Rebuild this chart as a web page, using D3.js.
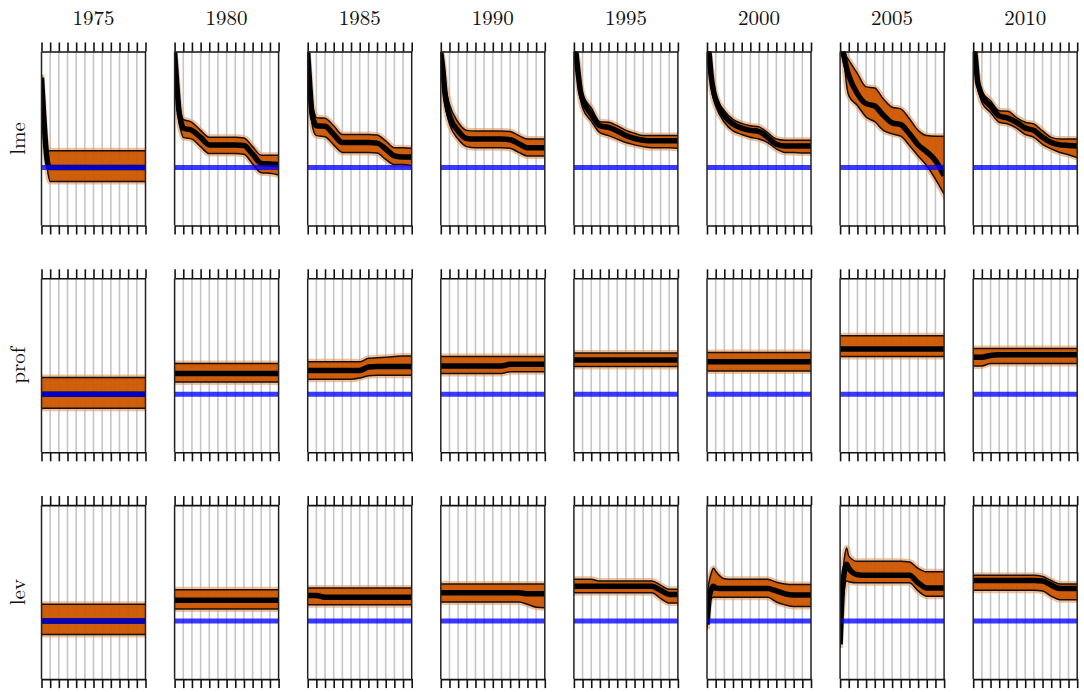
<!DOCTYPE html>
<html>
<head>
<meta charset="utf-8">
<script src="https://cdn.jsdelivr.net/npm/d3@7"></script>
<style>
  body { margin: 0; background: #fff; }
  text { font-family: "CMU Serif", "Latin Modern Roman", "Liberation Serif", serif; fill: #111; }
</style>
</head>
<body>
<svg id="grid" width="1084" height="692"></svg>
<script>
var years = ["1975", "1980", "1985", "1990", "1995", "2000", "2005", "2010"];
var variables = ["lme", "prof", "lev"];
var steps = [0, 0.25, 0.5, 0.75, 1, 2, 3, 4, 5, 6, 7, 8, 9, 10, 11, 12];
var periods = [0, 1, 2, 3, 4, 5, 6, 7, 8, 9, 10, 11, 12];
var baseline = 0;

// lme: median and band per year
var lmeMedian = [
  [1.55, 0.90, 0.35, 0.05, 0, 0, 0, 0, 0, 0, 0, 0, 0, 0, 0, 0],
  [1.98, 1.44, 0.98, 0.78, 0.68, 0.64, 0.52, 0.39, 0.39, 0.39, 0.39, 0.38, 0.23, 0.07, 0.06, 0.05],
  [1.98, 1.38, 0.92, 0.78, 0.72, 0.71, 0.57, 0.43, 0.43, 0.43, 0.43, 0.42, 0.32, 0.20, 0.18, 0.18],
  [1.98, 1.67, 1.26, 1.03, 0.89, 0.63, 0.50, 0.49, 0.49, 0.49, 0.49, 0.48, 0.41, 0.34, 0.34, 0.34],
  [2.18, 1.95, 1.61, 1.32, 1.18, 0.92, 0.72, 0.69, 0.63, 0.55, 0.50, 0.47, 0.46, 0.46, 0.46, 0.46],
  [2.18, 1.95, 1.55, 1.32, 1.18, 0.89, 0.75, 0.68, 0.64, 0.62, 0.52, 0.40, 0.37, 0.37, 0.37, 0.37],
  [2.17, 2.05, 1.88, 1.71, 1.59, 1.27, 1.10, 1.06, 0.90, 0.77, 0.74, 0.58, 0.39, 0.27, 0.12, -0.14],
  [2.18, 1.90, 1.49, 1.35, 1.24, 1.06, 0.89, 0.85, 0.78, 0.68, 0.64, 0.52, 0.43, 0.39, 0.38, 0.37]
];
var lmeUpper = [
  [1.60, 1.00, 0.45, 0.29, 0.29, 0.29, 0.29, 0.29, 0.29, 0.29, 0.29, 0.29, 0.29, 0.29, 0.29, 0.29],
  [2.01, 1.61, 1.12, 0.92, 0.83, 0.78, 0.64, 0.52, 0.52, 0.52, 0.52, 0.51, 0.36, 0.21, 0.21, 0.21],
  [2.01, 1.55, 1.09, 0.95, 0.86, 0.85, 0.72, 0.57, 0.57, 0.57, 0.57, 0.56, 0.46, 0.34, 0.34, 0.33],
  [2.01, 1.84, 1.44, 1.24, 1.09, 0.78, 0.64, 0.63, 0.63, 0.63, 0.63, 0.62, 0.55, 0.49, 0.49, 0.49],
  [2.24, 2.01, 1.78, 1.44, 1.26, 1.03, 0.79, 0.78, 0.72, 0.64, 0.59, 0.55, 0.55, 0.55, 0.55, 0.55],
  [2.24, 2.01, 1.67, 1.44, 1.26, 0.98, 0.83, 0.76, 0.72, 0.70, 0.60, 0.49, 0.47, 0.47, 0.47, 0.47],
  [2.23, 2.11, 2.02, 1.91, 1.85, 1.62, 1.39, 1.37, 1.18, 1.04, 1.01, 0.84, 0.64, 0.55, 0.54, 0.54],
  [2.24, 2.01, 1.61, 1.44, 1.32, 1.15, 0.98, 0.97, 0.86, 0.78, 0.75, 0.63, 0.52, 0.49, 0.49, 0.49]
];
var lmeLower = [
  [1.50, 0.75, 0.20, -0.10, -0.24, -0.24, -0.24, -0.24, -0.24, -0.24, -0.24, -0.24, -0.24, -0.24, -0.24, -0.24],
  [1.95, 1.26, 0.80, 0.62, 0.52, 0.49, 0.36, 0.24, 0.24, 0.24, 0.24, 0.23, 0.06, -0.09, -0.10, -0.13],
  [1.95, 1.21, 0.75, 0.60, 0.55, 0.53, 0.39, 0.26, 0.26, 0.26, 0.26, 0.25, 0.14, 0.05, 0.05, 0.03],
  [1.95, 1.49, 1.09, 0.89, 0.75, 0.49, 0.36, 0.34, 0.34, 0.34, 0.34, 0.33, 0.26, 0.20, 0.20, 0.20],
  [2.13, 1.87, 1.44, 1.18, 1.03, 0.80, 0.60, 0.55, 0.49, 0.43, 0.39, 0.36, 0.34, 0.34, 0.34, 0.33],
  [2.13, 1.87, 1.38, 1.18, 1.06, 0.78, 0.63, 0.57, 0.52, 0.49, 0.43, 0.32, 0.26, 0.26, 0.25, 0.25],
  [2.05, 1.94, 1.76, 1.42, 1.24, 1.07, 0.87, 0.79, 0.64, 0.58, 0.54, 0.38, 0.20, 0.03, -0.20, -0.46],
  [2.13, 1.78, 1.38, 1.24, 1.12, 0.95, 0.78, 0.75, 0.68, 0.57, 0.52, 0.40, 0.32, 0.26, 0.22, 0.17]
];

// prof
var profMedian = [
  [0, 0, 0, 0, 0, 0, 0, 0, 0, 0, 0, 0, 0, 0, 0, 0],
  [0.36, 0.36, 0.36, 0.36, 0.36, 0.36, 0.36, 0.36, 0.36, 0.36, 0.36, 0.36, 0.36, 0.36, 0.36, 0.36],
  [0.41, 0.41, 0.41, 0.41, 0.41, 0.41, 0.41, 0.41, 0.41, 0.41, 0.47, 0.48, 0.48, 0.48, 0.48, 0.48],
  [0.49, 0.49, 0.49, 0.49, 0.49, 0.49, 0.49, 0.49, 0.49, 0.49, 0.49, 0.52, 0.52, 0.52, 0.52, 0.52],
  [0.59, 0.59, 0.59, 0.59, 0.59, 0.59, 0.59, 0.59, 0.59, 0.59, 0.59, 0.59, 0.59, 0.59, 0.59, 0.59],
  [0.56, 0.56, 0.56, 0.56, 0.56, 0.56, 0.56, 0.56, 0.56, 0.56, 0.56, 0.56, 0.56, 0.56, 0.56, 0.56],
  [0.78, 0.78, 0.78, 0.78, 0.78, 0.78, 0.78, 0.78, 0.78, 0.78, 0.78, 0.78, 0.78, 0.78, 0.78, 0.78],
  [0.64, 0.64, 0.64, 0.64, 0.64, 0.67, 0.68, 0.68, 0.68, 0.68, 0.68, 0.68, 0.68, 0.68, 0.68, 0.68]
];
var profUpper = [
  [0.29, 0.29, 0.29, 0.29, 0.29, 0.29, 0.29, 0.29, 0.29, 0.29, 0.29, 0.29, 0.29, 0.29, 0.29, 0.29],
  [0.53, 0.53, 0.53, 0.53, 0.53, 0.53, 0.53, 0.53, 0.53, 0.53, 0.53, 0.53, 0.53, 0.53, 0.53, 0.53],
  [0.56, 0.56, 0.56, 0.56, 0.56, 0.56, 0.56, 0.56, 0.56, 0.56, 0.62, 0.63, 0.64, 0.65, 0.66, 0.66],
  [0.65, 0.65, 0.65, 0.65, 0.65, 0.65, 0.65, 0.65, 0.65, 0.65, 0.65, 0.65, 0.65, 0.65, 0.65, 0.65],
  [0.71, 0.71, 0.71, 0.71, 0.71, 0.71, 0.71, 0.71, 0.71, 0.71, 0.71, 0.71, 0.71, 0.71, 0.71, 0.71],
  [0.72, 0.72, 0.72, 0.72, 0.72, 0.72, 0.72, 0.72, 0.72, 0.72, 0.72, 0.72, 0.72, 0.72, 0.72, 0.72],
  [1.01, 1.01, 1.01, 1.01, 1.01, 1.01, 1.01, 1.01, 1.01, 1.01, 1.01, 1.01, 1.01, 1.01, 1.01, 1.01],
  [0.79, 0.79, 0.79, 0.79, 0.79, 0.79, 0.79, 0.79, 0.79, 0.79, 0.79, 0.79, 0.79, 0.79, 0.79, 0.79]
];
var profLower = [
  [-0.24, -0.24, -0.24, -0.24, -0.24, -0.24, -0.24, -0.24, -0.24, -0.24, -0.24, -0.24, -0.24, -0.24, -0.24, -0.24],
  [0.21, 0.21, 0.21, 0.21, 0.21, 0.21, 0.21, 0.21, 0.21, 0.21, 0.21, 0.21, 0.21, 0.21, 0.21, 0.21],
  [0.26, 0.26, 0.26, 0.26, 0.26, 0.26, 0.26, 0.26, 0.26, 0.28, 0.32, 0.33, 0.33, 0.33, 0.33, 0.33],
  [0.36, 0.36, 0.36, 0.36, 0.36, 0.36, 0.36, 0.36, 0.36, 0.36, 0.36, 0.39, 0.39, 0.39, 0.39, 0.39],
  [0.48, 0.48, 0.48, 0.48, 0.48, 0.48, 0.48, 0.48, 0.48, 0.48, 0.48, 0.48, 0.48, 0.48, 0.48, 0.48],
  [0.40, 0.40, 0.40, 0.40, 0.40, 0.40, 0.40, 0.40, 0.40, 0.40, 0.40, 0.40, 0.40, 0.40, 0.40, 0.40],
  [0.65, 0.65, 0.65, 0.65, 0.65, 0.65, 0.65, 0.65, 0.65, 0.65, 0.65, 0.65, 0.65, 0.65, 0.65, 0.65],
  [0.49, 0.49, 0.49, 0.49, 0.49, 0.53, 0.53, 0.53, 0.53, 0.53, 0.53, 0.53, 0.53, 0.53, 0.53, 0.53]
];

// lev
var levMedian = [
  [0, 0, 0, 0, 0, 0, 0, 0, 0, 0, 0, 0, 0, 0, 0, 0],
  [0.36, 0.36, 0.36, 0.36, 0.36, 0.36, 0.36, 0.36, 0.36, 0.36, 0.36, 0.36, 0.36, 0.36, 0.36, 0.36],
  [0.44, 0.44, 0.44, 0.44, 0.44, 0.41, 0.41, 0.41, 0.41, 0.41, 0.41, 0.41, 0.41, 0.41, 0.41, 0.41],
  [0.49, 0.49, 0.49, 0.49, 0.49, 0.49, 0.49, 0.49, 0.49, 0.49, 0.49, 0.49, 0.49, 0.47, 0.47, 0.47],
  [0.60, 0.60, 0.60, 0.60, 0.60, 0.60, 0.60, 0.60, 0.60, 0.60, 0.60, 0.60, 0.60, 0.53, 0.46, 0.46],
  [-0.06, 0.40, 0.55, 0.60, 0.57, 0.56, 0.56, 0.56, 0.56, 0.56, 0.56, 0.52, 0.47, 0.45, 0.45, 0.45],
  [-0.40, 0.52, 0.86, 0.98, 0.91, 0.80, 0.79, 0.79, 0.79, 0.79, 0.79, 0.79, 0.66, 0.57, 0.57, 0.57],
  [0.70, 0.70, 0.70, 0.70, 0.70, 0.70, 0.70, 0.70, 0.70, 0.70, 0.70, 0.69, 0.62, 0.56, 0.56, 0.56]
];
var levUpper = [
  [0.29, 0.29, 0.29, 0.29, 0.29, 0.29, 0.29, 0.29, 0.29, 0.29, 0.29, 0.29, 0.29, 0.29, 0.29, 0.29],
  [0.54, 0.54, 0.54, 0.54, 0.54, 0.54, 0.54, 0.54, 0.54, 0.54, 0.54, 0.54, 0.54, 0.54, 0.54, 0.54],
  [0.57, 0.57, 0.57, 0.57, 0.57, 0.57, 0.57, 0.57, 0.57, 0.57, 0.57, 0.57, 0.57, 0.57, 0.57, 0.57],
  [0.64, 0.64, 0.64, 0.64, 0.64, 0.64, 0.64, 0.64, 0.64, 0.64, 0.64, 0.64, 0.64, 0.64, 0.64, 0.64],
  [0.72, 0.72, 0.72, 0.72, 0.72, 0.72, 0.69, 0.69, 0.69, 0.69, 0.69, 0.69, 0.69, 0.62, 0.55, 0.55],
  [0.46, 0.69, 0.83, 0.91, 0.86, 0.73, 0.72, 0.72, 0.72, 0.72, 0.72, 0.67, 0.64, 0.63, 0.63, 0.63],
  [0, 0.69, 1.09, 1.26, 1.12, 1.03, 1.03, 1.03, 1.03, 1.03, 1.03, 1.02, 0.91, 0.85, 0.85, 0.85],
  [0.79, 0.79, 0.79, 0.79, 0.79, 0.79, 0.79, 0.79, 0.79, 0.79, 0.79, 0.77, 0.70, 0.64, 0.64, 0.64]
];
var levLower = [
  [-0.23, -0.23, -0.23, -0.23, -0.23, -0.23, -0.23, -0.23, -0.23, -0.23, -0.23, -0.23, -0.23, -0.23, -0.23, -0.23],
  [0.21, 0.21, 0.21, 0.21, 0.21, 0.21, 0.21, 0.21, 0.21, 0.21, 0.21, 0.21, 0.21, 0.21, 0.21, 0.21],
  [0.28, 0.28, 0.28, 0.28, 0.28, 0.28, 0.28, 0.28, 0.28, 0.28, 0.28, 0.28, 0.28, 0.28, 0.28, 0.28],
  [0.33, 0.33, 0.33, 0.33, 0.33, 0.33, 0.33, 0.33, 0.33, 0.33, 0.33, 0.33, 0.33, 0.29, 0.24, 0.23],
  [0.49, 0.49, 0.49, 0.49, 0.49, 0.49, 0.49, 0.49, 0.49, 0.49, 0.49, 0.49, 0.49, 0.39, 0.31, 0.31],
  [-0.14, 0.29, 0.39, 0.41, 0.41, 0.41, 0.41, 0.41, 0.41, 0.41, 0.41, 0.33, 0.28, 0.25, 0.25, 0.25],
  [-0.46, 0.23, 0.57, 0.69, 0.68, 0.66, 0.66, 0.66, 0.66, 0.66, 0.66, 0.66, 0.52, 0.43, 0.43, 0.43],
  [0.53, 0.53, 0.53, 0.53, 0.53, 0.53, 0.53, 0.53, 0.53, 0.53, 0.53, 0.52, 0.43, 0.37, 0.37, 0.37]
];

var series = {
  lme: {median: lmeMedian, upper: lmeUpper, lower: lmeLower},
  prof: {median: profMedian, upper: profUpper, lower: profLower},
  lev: {median: levMedian, upper: levUpper, lower: levLower}
};

var margin = {top: 51.5, left: 41.5},
    panelW = 104,
    panelH = 174,
    pitchX = 133.1,
    pitchY = 226.8;

var x = d3.scaleLinear().domain([0, 12]).range([0, panelW]);
var y = d3.scaleLinear().domain([-1, 2]).range([panelH, 0]);

var svg = d3.select("#grid");
var defs = svg.append("defs");
defs.append("clipPath")
    .attr("id", "panel-clip")
  .append("rect")
    .attr("width", panelW)
    .attr("height", panelH);

var band = d3.area()
    .curve(d3.curveMonotoneX)
    .x(function(d) { return x(d.step); })
    .y0(function(d) { return y(d.lo); })
    .y1(function(d) { return y(d.hi); });

var line = function(key) {
  return d3.line()
      .curve(d3.curveMonotoneX)
      .x(function(d) { return x(d.step); })
      .y(function(d) { return y(d[key]); });
};

// column titles
years.forEach(function(yr, c) {
  svg.append("text")
      .attr("x", margin.left + c * pitchX + panelW / 2)
      .attr("y", 25)
      .attr("text-anchor", "middle")
      .style("font-size", "21px")
      .text(yr);
});

variables.forEach(function(v, r) {
  var top = margin.top + r * pitchY;

  svg.append("text")
      .attr("transform", "translate(25," + (top + panelH / 2) + ") rotate(-90)")
      .attr("text-anchor", "middle")
      .style("font-size", "21px")
      .text(v);

  years.forEach(function(yr, c) {
    var g = svg.append("g")
        .attr("transform", "translate(" + (margin.left + c * pitchX) + "," + top + ")");

    var data = steps.map(function(s, i) {
      return {
        step: s,
        med: series[v].median[c][i],
        hi: series[v].upper[c][i],
        lo: series[v].lower[c][i]
      };
    });

    // grid
    g.selectAll(".grid")
        .data(periods.slice(1, -1))
      .enter().append("line")
        .attr("x1", function(d) { return x(d); })
        .attr("x2", function(d) { return x(d); })
        .attr("y1", 0)
        .attr("y2", panelH)
        .style("stroke", "#c6c6c6")
        .style("stroke-width", 1.6);

    var plot = g.append("g").attr("clip-path", "url(#panel-clip)");

    // halo of the sample lines
    plot.append("path")
        .datum(data)
        .attr("d", band)
        .style("fill", "none")
        .style("stroke", "#e39a62")
        .style("stroke-opacity", 0.6)
        .style("stroke-width", 6);

    plot.append("path")
        .datum(data)
        .attr("d", band)
        .style("fill", "#cc5500")
        .style("fill-opacity", 0.95);

    ["hi", "lo"].forEach(function(k) {
      plot.append("path")
          .datum(data)
          .attr("d", line(k))
          .style("fill", "none")
          .style("stroke", "#111")
          .style("stroke-width", 1.5);
    });

    plot.append("path")
        .datum(data)
        .attr("d", line("med"))
        .style("fill", "none")
        .style("stroke", "#000")
        .style("stroke-width", 5.5);

    plot.append("line")
        .attr("x1", 0)
        .attr("x2", panelW)
        .attr("y1", y(baseline))
        .attr("y2", y(baseline))
        .style("stroke", "#0000ff")
        .style("stroke-opacity", 0.78)
        .style("stroke-width", 5);

    // frame
    [0, panelW].forEach(function(px) {
      g.append("line")
          .attr("x1", px).attr("x2", px)
          .attr("y1", 0).attr("y2", panelH)
          .style("stroke", "#222")
          .style("stroke-width", 1.5);
    });

    var top_axis = g.append("g")
        .call(d3.axisTop(x).tickValues(periods).tickSize(9).tickSizeOuter(0).tickFormat(""));
    var bottom_axis = g.append("g")
        .attr("transform", "translate(0," + panelH + ")")
        .call(d3.axisBottom(x).tickValues(periods).tickSize(9).tickSizeOuter(0).tickFormat(""));

    [top_axis, bottom_axis].forEach(function(a) {
      a.selectAll("path, line")
          .style("stroke", "#111")
          .style("stroke-width", 1.6);
    });
  });
});
</script>
</body>
</html>
